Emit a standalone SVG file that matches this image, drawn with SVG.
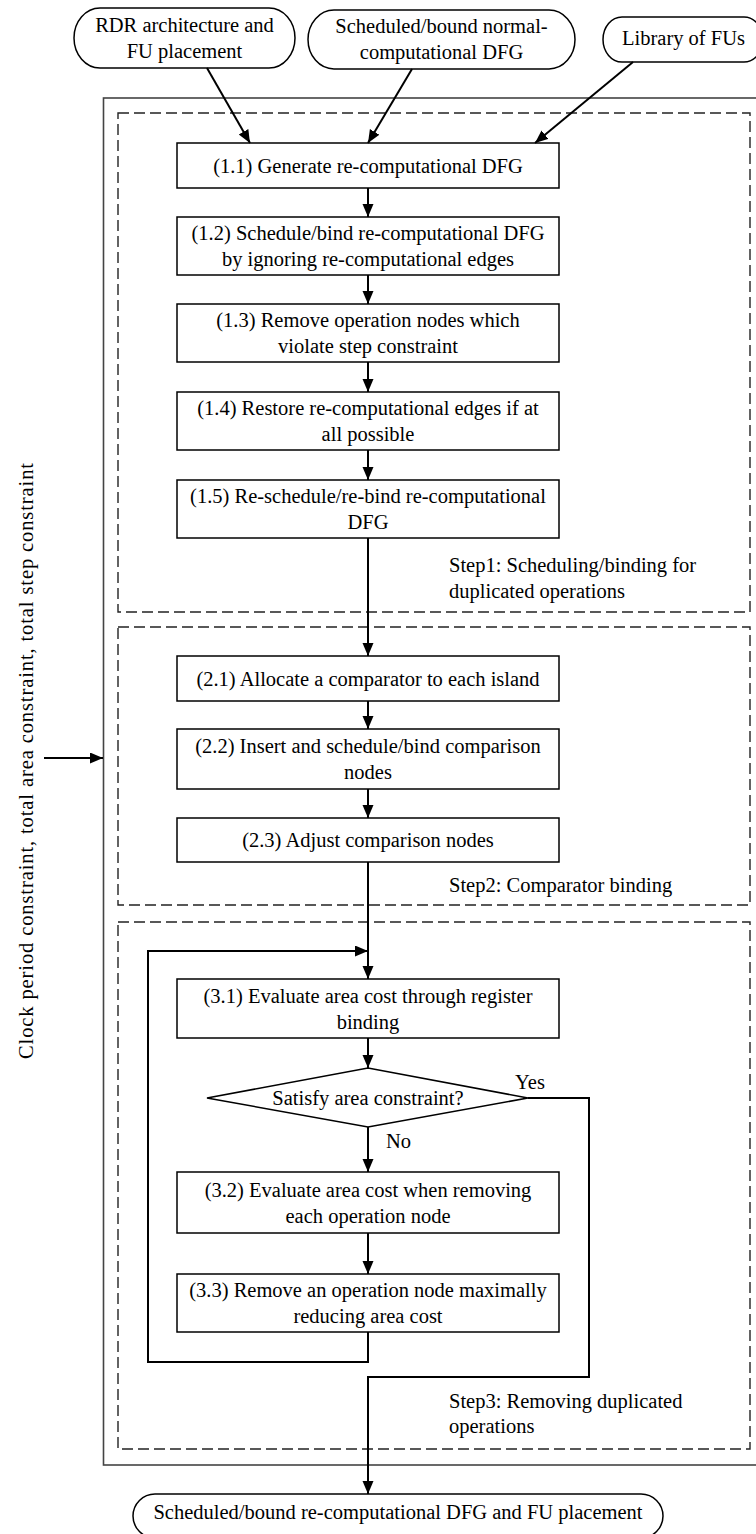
<svg xmlns="http://www.w3.org/2000/svg" width="756" height="1534" viewBox="0 0 756 1534">
  <defs>
    <marker id="arrow" markerUnits="userSpaceOnUse" markerWidth="14" markerHeight="12" refX="13" refY="5.5" orient="auto">
      <path d="M0,0 L13,5.5 L0,11 z" fill="#000"/>
    </marker>
    <style>
      .t { font-family: "Liberation Serif", "Times New Roman", serif; font-size: 20.5px; fill: #000; text-anchor: middle; }
      .l { text-anchor: start; }
      .box { fill: #fff; stroke: #000; stroke-width: 1.5; }
      .pill { fill: #fff; stroke: #000; stroke-width: 1.5; }
      .frame { fill: none; stroke: #444; stroke-width: 1.6; }
      .stage { fill: none; stroke: #222; stroke-width: 1.4; stroke-dasharray: 11 5; }
      .edge { fill: none; stroke: #000; stroke-width: 2; marker-end: url(#arrow); }
    </style>
  </defs>

  <rect width="756" height="1534" fill="#fff"/>

  <!-- enclosing frame and the three stage regions -->
  <g id="frame">
    <rect class="frame" x="103.5" y="98" width="660" height="1367"/>
  </g>
  <g id="stage1">
    <rect class="stage" x="118" y="113" width="632" height="499"/>
    <text class="t l" x="449" y="572">Step1: Scheduling/binding for</text>
    <text class="t l" x="449" y="598">duplicated operations</text>
  </g>
  <g id="stage2">
    <rect class="stage" x="118" y="627" width="632" height="278"/>
    <text class="t l" x="449" y="892">Step2: Comparator binding</text>
  </g>
  <g id="stage3">
    <rect class="stage" x="118" y="922" width="632" height="527"/>
    <text class="t l" x="449" y="1408">Step3: Removing duplicated</text>
    <text class="t l" x="449" y="1433">operations</text>
  </g>

  <!-- inputs -->
  <g id="in-rdr">
    <rect class="pill" x="74" y="8" width="221" height="60" rx="26" ry="30"/>
    <text class="t" x="184.5" y="32">RDR architecture and</text>
    <text class="t" x="184.5" y="58">FU placement</text>
  </g>
  <g id="in-dfg">
    <rect class="pill" x="308" y="10" width="267" height="59" rx="26" ry="29.5"/>
    <text class="t" x="441.5" y="33">Scheduled/bound normal-</text>
    <text class="t" x="441.5" y="59">computational DFG</text>
  </g>
  <g id="in-lib">
    <rect class="pill" x="603" y="17" width="160" height="45" rx="19" ry="22.5"/>
    <text class="t l" x="622" y="45">Library of FUs</text>
  </g>
  <g id="in-constraints">
    <text class="t l" transform="translate(33,1059) rotate(-90)" x="0" y="0" textLength="596" lengthAdjust="spacing">Clock period constraint, total area constraint, total step constraint</text>
  </g>

  <!-- step 1 -->
  <g id="s1-1">
    <rect class="box" x="177" y="143" width="382" height="45"/>
    <text class="t" x="368" y="172.5">(1.1) Generate re-computational DFG</text>
  </g>
  <g id="s1-2">
    <rect class="box" x="177" y="217" width="382" height="58"/>
    <text class="t" x="368" y="240">(1.2) Schedule/bind re-computational DFG</text>
    <text class="t" x="368" y="266">by ignoring re-computational edges</text>
  </g>
  <g id="s1-3">
    <rect class="box" x="177" y="304" width="382" height="58"/>
    <text class="t" x="368" y="327">(1.3) Remove operation nodes which</text>
    <text class="t" x="368" y="353">violate step constraint</text>
  </g>
  <g id="s1-4">
    <rect class="box" x="177" y="392" width="382" height="58"/>
    <text class="t" x="368" y="415">(1.4) Restore re-computational edges if at</text>
    <text class="t" x="368" y="441">all possible</text>
  </g>
  <g id="s1-5">
    <rect class="box" x="177" y="480" width="382" height="58"/>
    <text class="t" x="368" y="503">(1.5) Re-schedule/re-bind re-computational</text>
    <text class="t" x="368" y="529">DFG</text>
  </g>

  <!-- step 2 -->
  <g id="s2-1">
    <rect class="box" x="177" y="656" width="382" height="45"/>
    <text class="t" x="368" y="685.5">(2.1) Allocate a comparator to each island</text>
  </g>
  <g id="s2-2">
    <rect class="box" x="177" y="729" width="382" height="60"/>
    <text class="t" x="368" y="753">(2.2) Insert and schedule/bind comparison</text>
    <text class="t" x="368" y="779">nodes</text>
  </g>
  <g id="s2-3">
    <rect class="box" x="177" y="818" width="382" height="44"/>
    <text class="t" x="368" y="847">(2.3) Adjust comparison nodes</text>
  </g>

  <!-- step 3 -->
  <g id="s3-1">
    <rect class="box" x="177" y="979" width="382" height="59"/>
    <text class="t" x="368" y="1002.5">(3.1) Evaluate area cost through register</text>
    <text class="t" x="368" y="1028.5">binding</text>
  </g>
  <g id="s3-check">
    <polygon class="box" points="207,1098 368,1068 528,1098 368,1127"/>
    <text class="t" x="368" y="1105">Satisfy area constraint?</text>
  </g>
  <g id="s3-2">
    <rect class="box" x="177" y="1172" width="382" height="61"/>
    <text class="t" x="368" y="1196.5">(3.2) Evaluate area cost when removing</text>
    <text class="t" x="368" y="1222.5">each operation node</text>
  </g>
  <g id="s3-3">
    <rect class="box" x="177" y="1274" width="382" height="58"/>
    <text class="t" x="368" y="1297">(3.3) Remove an operation node maximally</text>
    <text class="t" x="368" y="1323">reducing area cost</text>
  </g>

  <!-- output -->
  <g id="out">
    <rect class="pill" x="133" y="1494" width="530" height="44" rx="22" ry="22"/>
    <text class="t" x="398" y="1519">Scheduled/bound re-computational DFG and FU placement</text>
  </g>

  <!-- connectors -->
  <g id="connectors">
    <path class="edge" d="M207,68 L250,143"/>
    <path class="edge" d="M412,69 L368,143"/>
    <path class="edge" d="M633,62 L535,143"/>
    <path class="edge" d="M44,758 L103,758"/>
    <path class="edge" d="M368,188 V217"/>
    <path class="edge" d="M368,275 V304"/>
    <path class="edge" d="M368,362 V392"/>
    <path class="edge" d="M368,450 V480"/>
    <path class="edge" d="M368,538 V656"/>
    <path class="edge" d="M368,701 V729"/>
    <path class="edge" d="M368,789 V818"/>
    <path class="edge" d="M368,862 V979"/>
    <path class="edge" d="M368,1038 V1068"/>
    <path class="edge" d="M368,1127 V1172"/>
    <path class="edge" d="M368,1233 V1274"/>
    <path class="edge" d="M368,1332 V1362 H148 V951 H368"/>
    <path class="edge" d="M528,1098 H589 V1377 H368 V1494"/>
    <text class="t" x="530" y="1089">Yes</text>
    <text class="t l" x="386" y="1148">No</text>
  </g>
</svg>
